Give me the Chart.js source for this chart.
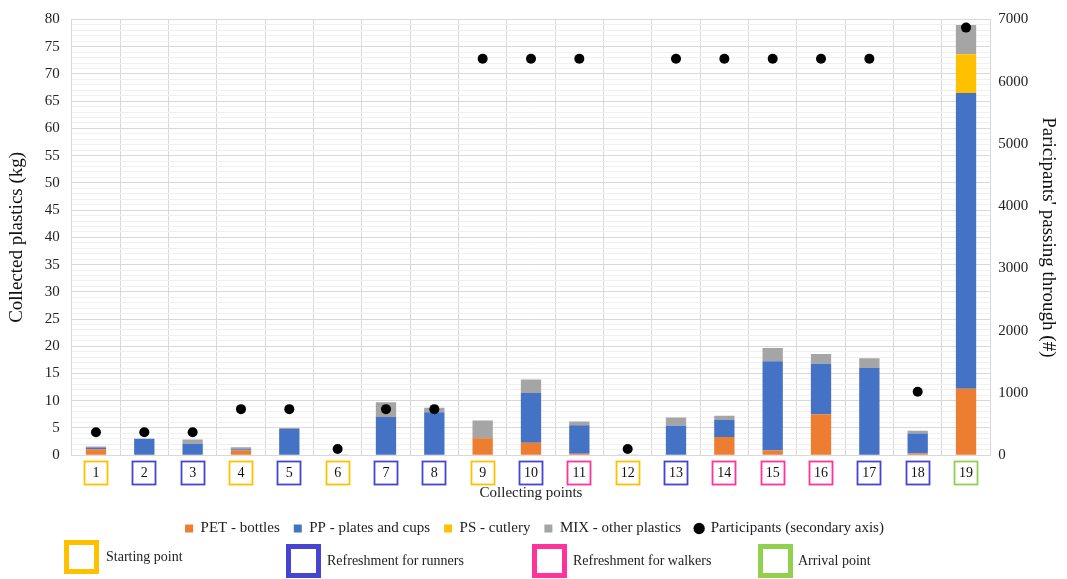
<!DOCTYPE html>
<html>
<head>
<meta charset="utf-8">
<script src="https://cdn.jsdelivr.net/npm/chart.js@4/dist/chart.umd.min.js"></script>
<style>
  html, body { margin: 0; padding: 0; background: #fff; }
  #wrap { width: 1067px; height: 579px; }
</style>
</head>
<body>
<div id="wrap"><canvas id="c" width="1067" height="579"></canvas></div>
<script>
// ---- Data ----
const categories = ['1','2','3','4','5','6','7','8','9','10','11','12','13','14','15','16','17','18','19'];
const petBottles  = [1.1, 0, 0, 0.85, 0, 0, 0, 0, 3.1, 2.3, 0.25, 0, 0, 3.35, 0.85, 7.5, 0, 0.3, 12.2];
const ppPlates    = [0.3, 3.0, 2.1, 0.25, 4.8, 0, 7.0, 7.9, 0, 9.1, 5.25, 0, 5.4, 3.1, 16.4, 9.3, 16.0, 3.7, 54.3];
const psCutlery   = [0, 0, 0, 0, 0, 0, 0, 0, 0, 0, 0, 0, 0, 0, 0, 0, 0, 0, 7.1];
const mixOther    = [0.2, 0, 0.8, 0.35, 0.2, 0.15, 2.7, 0.8, 3.25, 2.5, 0.7, 0.15, 1.5, 0.8, 2.45, 1.8, 1.8, 0.5, 5.4];
const participants = [370, 370, 370, 740, 740, 100, 740, 740, 6370, 6370, 6370, 100, 6370, 6370, 6370, 6370, 6370, 1020, 6870];
const pointTypes  = ['start','runners','runners','start','runners','start','runners','runners','start','runners','walkers','start','runners','walkers','walkers','walkers','runners','runners','arrival'];
const typeLabels  = ['Starting point', 'Refreshment for runners', 'Refreshment for walkers', 'Arrival point'];
const typeKeys    = ['start', 'runners', 'walkers', 'arrival'];

// ---- Styles ----
const typeColors = { start: '#FFC000', runners: '#4545D2', walkers: '#FF3399', arrival: '#92D050' };
const serif = "'Liberation Serif', 'Times New Roman', serif";

// Boxes around the category tick labels
const tickBoxPlugin = {
  id: 'tickBoxes',
  afterDraw(chart) {
    const xs = chart.scales.x;
    const ctx = chart.ctx;
    ctx.save();
    ctx.lineWidth = 1.8;
    const cy = xs.top + 10 + 7;
    categories.forEach((c, i) => {
      const x = xs.getPixelForValue(i);
      ctx.strokeStyle = typeColors[pointTypes[i]];
      ctx.strokeRect(Math.round(x - 12) + 0.5, Math.round(cy - 11.5) + 0.5, 23, 23);
    });
    ctx.restore();
  }
};

// Second legend row: collecting point types
const typeLegendPlugin = {
  id: 'typeLegend',
  afterDraw(chart) {
    const ctx = chart.ctx;
    const slots = [
      { bx: 64,  by: 540, tx: 106 },
      { bx: 286, by: 544, tx: 327 },
      { bx: 532, by: 544, tx: 573 },
      { bx: 758, by: 544, tx: 798 }
    ];
    ctx.save();
    ctx.font = "14px " + serif;
    ctx.textBaseline = 'middle';
    ctx.textAlign = 'left';
    slots.forEach((s, i) => {
      ctx.lineWidth = 5;
      ctx.strokeStyle = typeColors[typeKeys[i]];
      ctx.strokeRect(s.bx + 2.5, s.by + 2.5, 30, 29);
      ctx.fillStyle = '#222';
      ctx.fillText(typeLabels[i], s.tx, s.by + 17);
    });
    ctx.restore();
  }
};

const ctx = document.getElementById('c').getContext('2d');
new Chart(ctx, {
  type: 'bar',
  data: {
    labels: categories,
    datasets: [
      { label: 'PET - bottles', data: petBottles, backgroundColor: '#ED7D31', yAxisID: 'y', order: 1, barPercentage: 0.42, categoryPercentage: 1.0 },
      { label: 'PP - plates and cups', data: ppPlates, backgroundColor: '#4472C4', yAxisID: 'y', order: 1, barPercentage: 0.42, categoryPercentage: 1.0 },
      { label: 'PS - cutlery', data: psCutlery, backgroundColor: '#FFC000', yAxisID: 'y', order: 1, barPercentage: 0.42, categoryPercentage: 1.0 },
      { label: 'MIX - other plastics', data: mixOther, backgroundColor: '#A5A5A5', yAxisID: 'y', order: 1, barPercentage: 0.42, categoryPercentage: 1.0 },
      { type: 'line', label: 'Participants (secondary axis)', data: participants, yAxisID: 'y1', order: 0,
        showLine: false, pointRadius: 5, pointHoverRadius: 5, pointStyle: 'circle',
        backgroundColor: '#000', borderColor: '#000', pointBorderWidth: 0 }
    ]
  },
  options: {
    responsive: false,
    animation: false,
    events: [],
    layout: { padding: { left: 6, right: 4, top: 0, bottom: 33 } },
    plugins: {
      tooltip: { enabled: false },
      legend: {
        position: 'bottom',
        labels: {
          font: { family: serif, size: 15 },
          color: '#222',
          usePointStyle: true,
          boxWidth: 8,
          boxHeight: 8,
          padding: 14,
          sort: (a, b) => a.datasetIndex - b.datasetIndex,
          generateLabels(chart) {
            const items = Chart.defaults.plugins.legend.labels.generateLabels(chart);
            items.forEach(it => {
              it.pointStyle = it.datasetIndex === 4 ? 'circle' : 'rect';
              it.lineWidth = 0;
            });
            return items;
          }
        }
      }
    },
    scales: {
      x: {
        stacked: true,
        grid: { color: '#d9d9d9', drawTicks: false, offset: true },
        border: { color: '#d9d9d9' },
        ticks: { font: { family: serif, size: 14 }, color: '#111', padding: 10, autoSkip: false, maxRotation: 0 },
        title: { display: true, text: 'Collecting points', font: { family: serif, size: 15 }, color: '#222', padding: { top: -8, bottom: 5 } }
      },
      y: {
        stacked: true,
        position: 'left',
        min: 0, max: 80,
        grid: {
          drawTicks: false,
          color: (c) => (c.tick && c.tick.value % 5 === 0) ? '#d9d9d9' : '#f0f0f0'
        },
        border: { color: '#d9d9d9' },
        ticks: {
          stepSize: 1, autoSkip: false,
          font: { family: serif, size: 15, lineHeight: 1 }, color: '#222', padding: 12,
          callback: (v) => (v % 5 === 0 ? String(v) : '')
        },
        title: { display: true, text: 'Collected plastics (kg)', font: { family: serif, size: 19 }, color: '#111', padding: { top: 0, bottom: 4 } }
      },
      y1: {
        position: 'right',
        min: 0, max: 7000,
        grid: { drawOnChartArea: false, drawTicks: false },
        border: { color: '#d9d9d9' },
        ticks: { stepSize: 1000, font: { family: serif, size: 15, lineHeight: 1 }, color: '#222', padding: 8, callback: (v) => String(v) },
        title: { display: true, text: "Paricipants' passing through (#)", font: { family: serif, size: 19 }, color: '#111', padding: { top: 4, bottom: 0 } }
      }
    }
  },
  plugins: [tickBoxPlugin, typeLegendPlugin]
});
</script>
</body>
</html>
